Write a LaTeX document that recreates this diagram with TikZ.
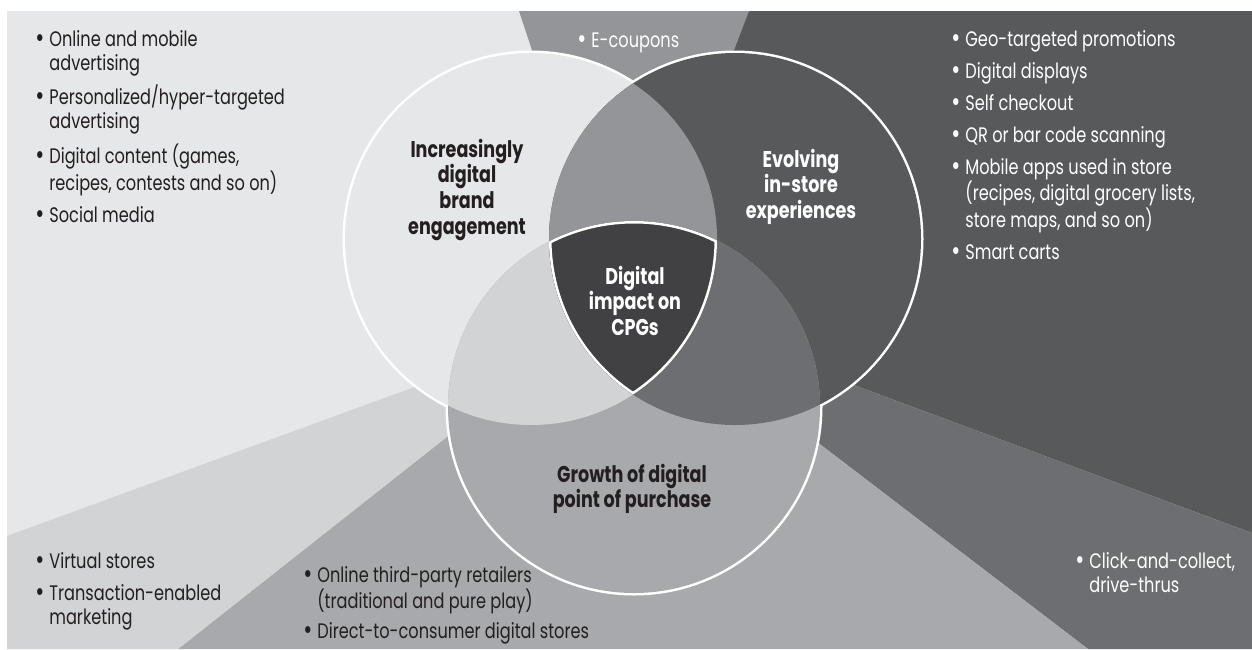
\documentclass[tikz,border=0pt]{standalone}
\usepackage{graphicx}
\usepackage{fontspec}
\setmainfont{Poppins}[FakeStretch=0.77]

\definecolor{g10}{HTML}{E6E7E8}
\definecolor{g20}{HTML}{D1D3D4}
\definecolor{g40}{HTML}{A7A9AC}
\definecolor{g50}{HTML}{939598}
\definecolor{g70}{HTML}{6D6E71}
\definecolor{g80}{HTML}{58595B}
\definecolor{g90}{HTML}{414042}
\definecolor{ink}{HTML}{231F20}

\tikzset{
  lst/.style={anchor=base west, inner sep=0pt, font=\fontsize{10.5}{12}\selectfont},
  ttl/.style={anchor=base, inner sep=0pt, font=\bfseries\fontsize{11.4}{12.8}\selectfont},
  rim/.style={draw=white, line width=2.5pt},
}
% bullet lists and centred titles
\newcommand\bul{\makebox[7pt][l]{\raisebox{-0.5pt}{\scalebox{1.35}{\textbullet}}}}
\newcommand\blist[1]{\begin{tabular}[t]{@{}l@{}l@{}}#1\end{tabular}}
\newcommand\ttlbox[1]{\begin{tabular}[t]{@{}c@{}}#1\end{tabular}}
% the three circles
\def\circL{(531,239) circle[radius=93pt]}
\def\circR{(735,239) circle[radius=93pt]}
\def\circB{(634,407) circle[radius=93pt]}

\begin{document}
\begin{tikzpicture}[x=0.5pt,y=-0.5pt]
\useasboundingbox (0,0) rectangle (1252,649);
\fill[white] (0,0) rectangle (1252,649);
\fill[g10] (7,11) rectangle (1252,649);

% rays behind the circles
\coordinate (hub) at (633,300);
\fill[g50] (519,11) -- (749,11) -- (696,150) -- (hub) -- (565,150) -- cycle;
\fill[g80] (749,11) -- (1252,11) -- (1252,533) -- (800,365) -- (hub) -- (696,150) -- cycle;
\fill[g70] (1252,533) -- (1252,649) -- (1088,649) -- (770,406) -- (hub) -- (800,365) -- cycle;
\fill[g40] (1088,649) -- (178,649) -- (500,395) -- (hub) -- (770,406) -- cycle;
\fill[g20] (178,649) -- (7,649) -- (7,536) -- (480,363) -- (hub) -- (500,395) -- cycle;

% outer white rim, then the fills
\draw[rim] \circL \circR \circB;
\fill[g10] \circL;
\fill[g80] \circR;
\fill[g40] \circB;
\begin{scope}
  \clip \circL;
  \fill[g50] \circR;
  \fill[g20] \circB;
\end{scope}
\begin{scope}
  \clip \circR;
  \fill[g70] \circB;
\end{scope}
\begin{scope}
  \clip \circL; \clip \circR; \clip \circB;
  \fill[g90] \circB;
  \draw[rim] \circL \circR \circB;
\end{scope}

% titles
\node[ttl, text=ink] (brand) at (467,157) {\ttlbox{Increasingly\\digital\\brand\\engagement}};
\node[ttl, text=white] (store) at (801,167) {\ttlbox{Evolving\\in-store\\experiences}};
\node[ttl, text=white] (core) at (635,284) {\ttlbox{Digital\\impact on\\CPGs}};
\node[ttl, text=ink] (buy) at (632,482) {\ttlbox{Growth of digital\\point of purchase}};

% lists
\node[lst, text=ink] (adlist) at (35,46) {\blist{%
  \bul & Online and mobile\\ & advertising\\[4pt]
  \bul & Personalized/hyper-targeted\\ & advertising\\[4pt]
  \bul & Digital content (games,\\ & recipes, contests and so on)\\[4pt]
  \bul & Social media}};
\node[lst, text=white] (coupons) at (577,47) {\bul E-coupons};
\node[lst, text=white] (storelist) at (951,46) {\blist{%
  \bul & Geo-targeted promotions\\[4pt]
  \bul & Digital displays\\[4pt]
  \bul & Self checkout\\[4pt]
  \bul & QR or bar code scanning\\[4pt]
  \bul & Mobile apps used in store\\ & (recipes, digital grocery lists,\\ & store maps, and so on)\\[4pt]
  \bul & Smart carts}};
\node[lst, text=ink] (virtlist) at (35,568) {\blist{%
  \bul & Virtual stores\\[4pt]
  \bul & Transaction-enabled\\ & marketing}};
\node[lst, text=ink] (onlist) at (303,582) {\blist{%
  \bul & Online third-party retailers\\ & (traditional and pure play)\\[3pt]
  \bul & Direct-to-consumer digital stores}};
\node[lst, text=white] (clicklist) at (1075,568) {\blist{%
  \bul & Click-and-collect,\\ & drive-thrus}};
\end{tikzpicture}
\end{document}
